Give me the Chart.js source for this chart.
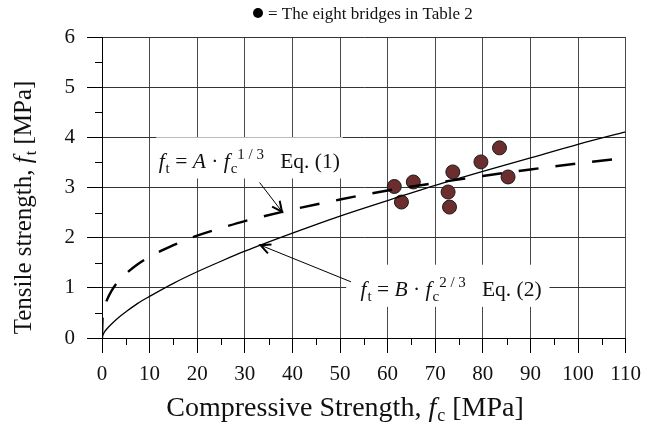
<!DOCTYPE html>
<html>
<head>
<meta charset="utf-8">
<script src="https://cdn.jsdelivr.net/npm/chart.js@4.4.1/dist/chart.umd.min.js"></script>
<style>
  html, body { margin: 0; padding: 0; background: #fff; }
  canvas { display: block; }
</style>
</head>
<body>
<canvas id="chart" width="650" height="425"></canvas>
<script>
// Axis ticks
const fcTicks = [0, 10, 20, 30, 40, 50, 60, 70, 80, 90, 100, 110];
const ftTicks = [0, 1, 2, 3, 4, 5, 6];
const fcMinorTicks = [5, 15, 25, 35, 45, 55, 65, 75, 85, 95, 105];
const ftMinorTicks = [0.5, 1.5, 2.5, 3.5, 4.5, 5.5];

// Curve samples (compressive strength, MPa)
const curveFc = [0, 0.1, 0.3, 0.6, 1, 2, 3.5, 5, 7.5, 10, 15, 20, 25, 30, 40, 50, 60, 70, 80, 90, 100, 110];
// Eq. (1): ft = A * fc^(1/3)
const ftEq1 = [0, 0.35, 0.50, 0.63, 0.75, 0.94, 1.14, 1.28, 1.47, 1.62, 1.85, 2.04, 2.19, 2.33, 2.56, 2.76, 2.94, 3.09, 3.23, 3.36, 3.48, 3.59];
// Eq. (2): ft = B * fc^(2/3)
const ftEq2 = [0, 0.04, 0.08, 0.13, 0.18, 0.28, 0.41, 0.52, 0.69, 0.83, 1.09, 1.32, 1.53, 1.73, 2.09, 2.43, 2.74, 3.04, 3.32, 3.59, 3.86, 4.11];

// Bridges (Table 2)
const bridgeFc = [61.4, 62.9, 65.4, 72.7, 73.0, 73.7, 79.6, 83.5, 85.3];
const bridgeFt = [3.02, 2.71, 3.11, 2.91, 2.61, 3.31, 3.51, 3.79, 3.21];

const SERIF = '"Liberation Serif", "DejaVu Serif", serif';
function fnt(size, italic) { return (italic ? 'italic ' : '') + size + 'px ' + SERIF; }

// Draw a run of text segments (italic / sub / superscript) on one baseline
function drawRich(ctx, segs, x, y, align) {
  let total = 0;
  segs.forEach(s => {
    ctx.font = fnt(s.size, s.italic);
    s.w = ctx.measureText(s.text).width;
    total += s.w + (s.gap || 0);
  });
  let cx = align === 'center' ? x - total / 2 : x;
  ctx.textAlign = 'left';
  ctx.textBaseline = 'alphabetic';
  segs.forEach(s => {
    ctx.font = fnt(s.size, s.italic);
    ctx.fillText(s.text, cx, y + (s.dy || 0));
    cx += s.w + (s.gap || 0);
  });
}

const eq1Text = [
  { text: 'f', size: 21.5, italic: true, gap: 1 },
  { text: 't', size: 15, dy: 5 },
  { text: ' = ', size: 21.5 },
  { text: 'A', size: 21.5, italic: true },
  { text: ' \u00b7 ', size: 21.5 },
  { text: 'f', size: 21.5, italic: true, gap: 1 },
  { text: 'c', size: 15, dy: 5 },
  { text: '1 / 3', size: 15, dy: -9 },
  { text: '   Eq. (1)', size: 21.5 }
];
const eq2Text = [
  { text: 'f', size: 21.5, italic: true, gap: 1 },
  { text: 't', size: 15, dy: 5 },
  { text: ' = ', size: 21.5 },
  { text: 'B', size: 21.5, italic: true },
  { text: ' \u00b7 ', size: 21.5 },
  { text: 'f', size: 21.5, italic: true, gap: 1 },
  { text: 'c', size: 15, dy: 5 },
  { text: '2 / 3', size: 15, dy: -9 },
  { text: '   Eq. (2)', size: 21.5 }
];

// Callout boxes and arrows, placed in data units
const callouts = [
  { box: [11.4, 50.6, 3.18, 4.0], textAt: [11.9, 3.39], segs: eq1Text,
    tail: [33.1, 3.10], tip: [37.8, 2.52] },
  { box: [51.3, 94.0, 0.62, 1.46], textAt: [54.3, 0.84], segs: eq2Text,
    tail: [52.3, 1.12], tip: [33.3, 1.85] }
];

const calloutPlugin = {
  id: 'callouts',
  beforeDatasetsDraw(chart) {
    const { ctx, scales: { x, y } } = chart;
    ctx.save();
    callouts.forEach(c => {
      const x0 = x.getPixelForValue(c.box[0]), x1 = x.getPixelForValue(c.box[1]);
      const y0 = y.getPixelForValue(c.box[3]), y1 = y.getPixelForValue(c.box[2]);
      ctx.fillStyle = '#fff';
      ctx.fillRect(x0, y0, x1 - x0, y1 - y0);
      ctx.fillStyle = '#111';
      drawRich(ctx, c.segs, x.getPixelForValue(c.textAt[0]), y.getPixelForValue(c.textAt[1]), 'left');
    });
    ctx.restore();
  },
  afterDatasetsDraw(chart) {
    const { ctx, scales: { x, y } } = chart;
    ctx.save();
    ctx.strokeStyle = '#000';
    callouts.forEach(c => {
      const tx = x.getPixelForValue(c.tail[0]), ty = y.getPixelForValue(c.tail[1]);
      const px = x.getPixelForValue(c.tip[0]), py = y.getPixelForValue(c.tip[1]);
      ctx.lineWidth = 1;
      ctx.beginPath(); ctx.moveTo(tx, ty); ctx.lineTo(px, py); ctx.stroke();
      const ang = Math.atan2(py - ty, px - tx);
      const len = 11, spread = 0.45;
      ctx.lineWidth = 2;
      ctx.beginPath();
      ctx.moveTo(px - len * Math.cos(ang - spread), py - len * Math.sin(ang - spread));
      ctx.lineTo(px, py);
      ctx.lineTo(px - len * Math.cos(ang + spread), py - len * Math.sin(ang + spread));
      ctx.stroke();
    });
    ctx.restore();
  }
};

const decorPlugin = {
  id: 'decor',
  afterDraw(chart) {
    const { ctx, chartArea: a, scales: { x, y } } = chart;
    ctx.save();
    ctx.strokeStyle = '#000';
    ctx.lineWidth = 1;
    // minor tick marks
    ctx.beginPath();
    fcMinorTicks.forEach(v => {
      const p = Math.round(x.getPixelForValue(v)) + 0.5;
      ctx.moveTo(p, a.bottom); ctx.lineTo(p, a.bottom + 7);
    });
    ftMinorTicks.forEach(v => {
      const p = Math.round(y.getPixelForValue(v)) + 0.5;
      ctx.moveTo(a.left - 7, p); ctx.lineTo(a.left, p);
    });
    ctx.stroke();

    ctx.fillStyle = '#111';
    // x axis title
    drawRich(ctx, [
      { text: 'Compressive Strength, ', size: 28 },
      { text: 'f', size: 28, italic: true, gap: 1 },
      { text: 'c', size: 18, dy: 5 },
      { text: ' [MPa]', size: 28 }
    ], 345, 416, 'center');

    // y axis title
    ctx.save();
    ctx.translate(31, (a.top + a.bottom) / 2 + 20);
    ctx.rotate(-Math.PI / 2);
    drawRich(ctx, [
      { text: 'Tensile strength, ', size: 25 },
      { text: 'f', size: 25, italic: true, gap: 1 },
      { text: 't', size: 16, dy: 5 },
      { text: ' [MPa]', size: 25 }
    ], 0, 0, 'center');
    ctx.restore();

    // key for the bridge markers
    ctx.fillStyle = '#000';
    ctx.beginPath();
    ctx.arc(258, 13, 5, 0, Math.PI * 2);
    ctx.fill();
    ctx.fillStyle = '#111';
    drawRich(ctx, [{ text: '= The eight bridges in Table 2', size: 17 }], 268, 19, 'left');
    ctx.restore();
  }
};

new Chart(document.getElementById('chart'), {
  type: 'scatter',
  data: {
    datasets: [
      {
        label: 'Eq. (1)',
        data: curveFc.map((v, i) => ({ x: v, y: ftEq1[i] })),
        showLine: true,
        borderColor: '#000',
        borderWidth: 2.4,
        borderDash: [20, 17],
        pointRadius: 0,
        cubicInterpolationMode: 'monotone',
        fill: false
      },
      {
        label: 'Eq. (2)',
        data: curveFc.map((v, i) => ({ x: v, y: ftEq2[i] })),
        showLine: true,
        borderColor: '#000',
        borderWidth: 1.3,
        pointRadius: 0,
        cubicInterpolationMode: 'monotone',
        fill: false
      },
      {
        label: 'Bridges',
        data: bridgeFc.map((v, i) => ({ x: v, y: bridgeFt[i] })),
        pointRadius: 7,
        pointHoverRadius: 7,
        backgroundColor: '#6b2d2d',
        borderColor: '#1a1a1a',
        borderWidth: 1
      }
    ]
  },
  options: {
    responsive: false,
    devicePixelRatio: 1,
    animation: false,
    events: [],
    layout: { padding: { top: 37, right: 17, bottom: 0, left: 0 } },
    plugins: { legend: { display: false }, tooltip: { enabled: false }, title: { display: false } },
    scales: {
      x: {
        type: 'linear', min: 0, max: 110,
        afterBuildTicks: s => { s.ticks = fcTicks.map(v => ({ value: v })); },
        afterFit: s => { s.height = 87; },
        grid: {
          color: c => (c.tick && c.tick.value === 0) ? '#000' : '#4a4a4a',
          tickColor: '#000', tickLength: 15, lineWidth: 1
        },
        border: { display: true, color: '#000' },
        ticks: { font: { family: SERIF, size: 21 }, color: '#111', padding: 9, maxRotation: 0, autoSkip: false }
      },
      y: {
        type: 'linear', min: 0, max: 6,
        afterBuildTicks: s => { s.ticks = ftTicks.map(v => ({ value: v })); },
        afterFit: s => { s.width = 102; },
        grid: {
          color: c => (c.tick && c.tick.value === 0) ? '#000' : '#333',
          tickColor: '#000', tickLength: 15, lineWidth: 1
        },
        border: { display: true, color: '#000' },
        ticks: { font: { family: SERIF, size: 21 }, color: '#111', padding: 12, autoSkip: false }
      }
    }
  },
  plugins: [calloutPlugin, decorPlugin]
});
</script>
</body>
</html>
